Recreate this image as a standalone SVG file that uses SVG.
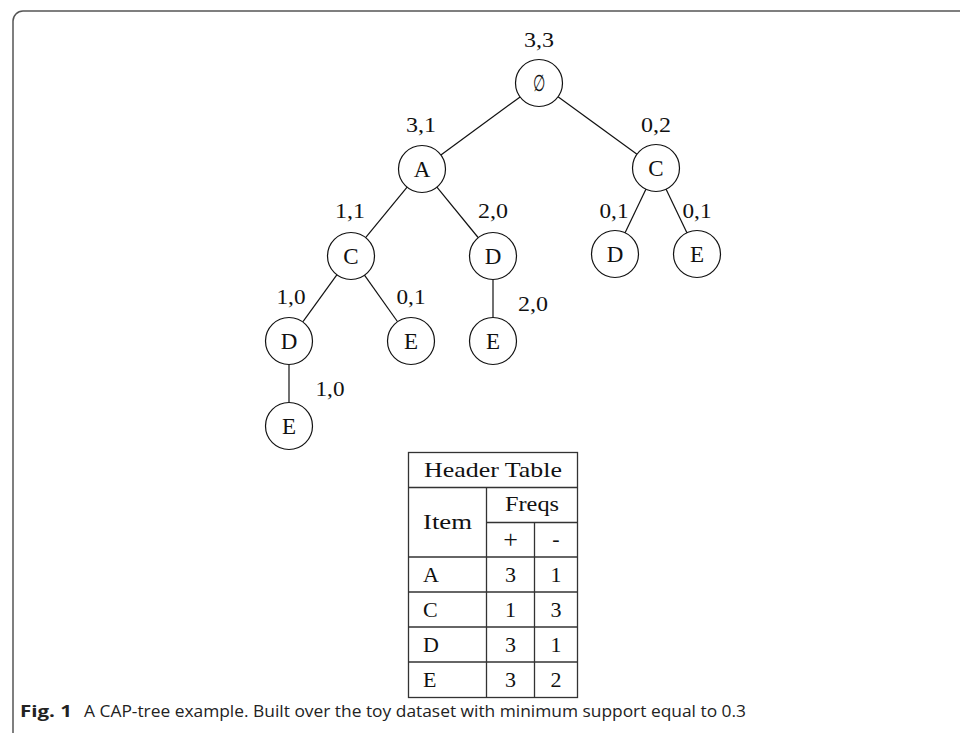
<svg xmlns="http://www.w3.org/2000/svg" width="960" height="733" viewBox="0 0 960 733">
<style>
.frame{fill:none;stroke:#555;stroke-width:1.5}
.node circle{fill:#fff;stroke:#111;stroke-width:1.2}
.node text,.lbl,.tt{font-family:"Liberation Serif","DejaVu Serif",serif;font-size:22px;fill:#111;text-anchor:middle}
.node text{font-size:23px}
.edges line{stroke:#111;stroke-width:1.2}
.tbl line,.tbl rect{stroke:#333;stroke-width:1.3;fill:none}
.tl{text-anchor:start}
.cap{font-family:"Open Sans","Noto Sans","Liberation Sans",sans-serif;font-size:16px;fill:#222}
</style>
<rect width="960" height="733" fill="#fff"/>
<path class="frame" d="M13 733 V21 A10 10 0 0 1 23 11 H960"/>
<g id="edges" class="edges">
<line x1="520.1" y1="96.9" x2="440.9" y2="155.1"/>
<line x1="558" y1="96.8" x2="637" y2="154.2"/>
<line x1="407.1" y1="187.1" x2="365.6" y2="237.6"/>
<line x1="436.9" y1="187.2" x2="478.1" y2="237.5"/>
<line x1="645.9" y1="189.2" x2="625.1" y2="232.8"/>
<line x1="666.1" y1="189.2" x2="686.9" y2="232.8"/>
<line x1="337" y1="274.7" x2="303" y2="321.7"/>
<line x1="364.3" y1="274.9" x2="397.4" y2="321.5"/>
<line x1="493" y1="279.5" x2="493" y2="317.5"/>
<line x1="289" y1="364.5" x2="289" y2="402.5"/>
</g>
<g id="n_root" class="node"><circle cx="539" cy="83" r="23.5"/><text transform="translate(539 91) scale(0.8 1.3)" x="0" y="0" style="font-family:'DejaVu Serif',serif;font-size:18px">∅</text></g>
<g id="n_A" class="node"><circle cx="422" cy="169" r="23.5"/><text x="422" y="177">A</text></g>
<g id="n_C2" class="node"><circle cx="656" cy="168" r="23.5"/><text x="656" y="176">C</text></g>
<g id="n_C1" class="node"><circle cx="351" cy="256" r="23.5"/><text x="351" y="264">C</text></g>
<g id="n_D1" class="node"><circle cx="493" cy="256" r="23.5"/><text x="493" y="264">D</text></g>
<g id="n_D2" class="node"><circle cx="615" cy="254" r="23.5"/><text x="615" y="262">D</text></g>
<g id="n_E2" class="node"><circle cx="697" cy="254" r="23.5"/><text x="697" y="262">E</text></g>
<g id="n_D3" class="node"><circle cx="289" cy="341" r="23.5"/><text x="289" y="349">D</text></g>
<g id="n_E3" class="node"><circle cx="411" cy="341" r="23.5"/><text x="411" y="349">E</text></g>
<g id="n_E4" class="node"><circle cx="493" cy="341" r="23.5"/><text x="493" y="349">E</text></g>
<g id="n_E5" class="node"><circle cx="289" cy="426" r="23.5"/><text x="289" y="434">E</text></g>
<g id="labels">
<text class="lbl" x="539" y="47" textLength="30" lengthAdjust="spacingAndGlyphs">3,3</text>
<text class="lbl" x="421" y="132" textLength="30" lengthAdjust="spacingAndGlyphs">3,1</text>
<text class="lbl" x="656" y="132" textLength="30" lengthAdjust="spacingAndGlyphs">0,2</text>
<text class="lbl" x="350" y="218" textLength="30" lengthAdjust="spacingAndGlyphs">1,1</text>
<text class="lbl" x="493" y="218" textLength="30" lengthAdjust="spacingAndGlyphs">2,0</text>
<text class="lbl" x="614" y="218" textLength="29" lengthAdjust="spacingAndGlyphs">0,1</text>
<text class="lbl" x="697" y="218" textLength="29" lengthAdjust="spacingAndGlyphs">0,1</text>
<text class="lbl" x="291" y="304" textLength="29" lengthAdjust="spacingAndGlyphs">1,0</text>
<text class="lbl" x="411" y="304" textLength="29" lengthAdjust="spacingAndGlyphs">0,1</text>
<text class="lbl" x="533" y="311" textLength="30" lengthAdjust="spacingAndGlyphs">2,0</text>
<text class="lbl" x="330" y="396" textLength="29" lengthAdjust="spacingAndGlyphs">1,0</text>
</g>
<g id="header_table" class="tbl">
<rect x="408.5" y="452.5" width="169" height="245"/>
<line x1="408.5" y1="487.5" x2="577.5" y2="487.5"/>
<line x1="486.5" y1="522.5" x2="577.5" y2="522.5"/>
<line x1="408.5" y1="557" x2="577.5" y2="557"/>
<line x1="408.5" y1="592" x2="577.5" y2="592"/>
<line x1="408.5" y1="627" x2="577.5" y2="627"/>
<line x1="408.5" y1="662" x2="577.5" y2="662"/>
<line x1="486.5" y1="487.5" x2="486.5" y2="697.5"/>
<line x1="534.5" y1="522.5" x2="534.5" y2="697.5"/>
<text class="tt" x="493" y="477" textLength="138" lengthAdjust="spacingAndGlyphs">Header Table</text>
<text class="tt" x="532" y="511" textLength="54" lengthAdjust="spacingAndGlyphs">Freqs</text>
<text class="tt tl" x="423" y="529" textLength="49" lengthAdjust="spacingAndGlyphs">Item</text>
<text class="tt" x="510.5" y="548" style="font-size:26px">+</text>
<text class="tt" x="556" y="546">-</text>
<text class="tt tl" x="423" y="582">A</text>
<text class="tt" x="510.5" y="582">3</text>
<text class="tt" x="556" y="582">1</text>
<text class="tt tl" x="423" y="617">C</text>
<text class="tt" x="510.5" y="617">1</text>
<text class="tt" x="556" y="617">3</text>
<text class="tt tl" x="423" y="652">D</text>
<text class="tt" x="510.5" y="652">3</text>
<text class="tt" x="556" y="652">1</text>
<text class="tt tl" x="423" y="687">E</text>
<text class="tt" x="510.5" y="687">3</text>
<text class="tt" x="556" y="687">2</text>
</g>
<g id="caption">
<text class="cap" x="20" y="717" style="font-weight:bold" textLength="52" lengthAdjust="spacingAndGlyphs">Fig. 1</text>
<text class="cap" x="84" y="717" textLength="662" lengthAdjust="spacingAndGlyphs">A CAP-tree example. Built over the toy dataset with minimum support equal to 0.3</text>
</g>
</svg>
